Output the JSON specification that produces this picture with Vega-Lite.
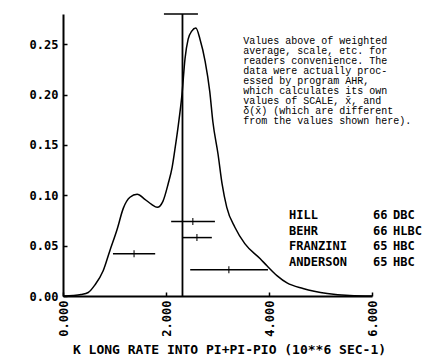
{
  "$schema": "https://vega.github.io/schema/vega-lite/v6.json",
  "autosize": "none",
  "width": 309,
  "height": 282,
  "padding": {"left": 63, "top": 14, "right": 58, "bottom": 64},
  "background": "white",
  "config": {
    "view": {"stroke": null},
    "axis": {
      "grid": false,
      "domainColor": "black",
      "domainWidth": 2,
      "tickColor": "black",
      "tickWidth": 1.5,
      "tickSize": -4,
      "labelColor": "black",
      "labelFont": "DejaVu Sans Mono",
      "labelFontWeight": "bold",
      "labelFontSize": 12,
      "titleColor": "black",
      "titleFont": "DejaVu Sans Mono",
      "titleFontWeight": "bold",
      "titleFontSize": 13
    }
  },
  "datasets": {
    "curve": [
      {"x": 0, "y": 0}, {"x": 0.2, "y": 0.0005}, {"x": 0.35, "y": 0.0015}, {"x": 0.49, "y": 0.0035},
      {"x": 0.62, "y": 0.011}, {"x": 0.78, "y": 0.025}, {"x": 0.91, "y": 0.045}, {"x": 1.05, "y": 0.066},
      {"x": 1.17, "y": 0.087}, {"x": 1.30, "y": 0.098}, {"x": 1.44, "y": 0.101}, {"x": 1.59, "y": 0.096},
      {"x": 1.72, "y": 0.091}, {"x": 1.83, "y": 0.088}, {"x": 1.94, "y": 0.094}, {"x": 2.04, "y": 0.111},
      {"x": 2.12, "y": 0.128}, {"x": 2.18, "y": 0.148}, {"x": 2.24, "y": 0.170}, {"x": 2.31, "y": 0.200},
      {"x": 2.37, "y": 0.236}, {"x": 2.43, "y": 0.255}, {"x": 2.50, "y": 0.263}, {"x": 2.58, "y": 0.266},
      {"x": 2.66, "y": 0.255}, {"x": 2.76, "y": 0.233}, {"x": 2.85, "y": 0.203}, {"x": 2.91, "y": 0.173},
      {"x": 3.01, "y": 0.141}, {"x": 3.09, "y": 0.111}, {"x": 3.18, "y": 0.088}, {"x": 3.34, "y": 0.068},
      {"x": 3.53, "y": 0.052}, {"x": 3.83, "y": 0.037}, {"x": 3.96, "y": 0.030}, {"x": 4.16, "y": 0.020},
      {"x": 4.35, "y": 0.013}, {"x": 4.66, "y": 0.0075}, {"x": 5.13, "y": 0.0025}, {"x": 5.57, "y": 0.0005},
      {"x": 6.0, "y": 0}
    ],
    "points": [
      {"experiment": "HILL", "x": 1.38, "lo": 0.97, "hi": 1.79, "y": 0.042},
      {"experiment": "BEHR", "x": 2.52, "lo": 2.10, "hi": 2.95, "y": 0.074},
      {"experiment": "FRANZINI", "x": 2.60, "lo": 2.33, "hi": 2.89, "y": 0.058},
      {"experiment": "ANDERSON", "x": 3.22, "lo": 2.47, "hi": 3.98, "y": 0.026}
    ],
    "average": [
      {"x": 2.32, "lo": 1.96, "hi": 2.62, "y0": 0, "y": 0.28}
    ],
    "legend": [
      {"name": "HILL", "year": "66", "type": "DBC", "y": 0.0804},
      {"name": "BEHR", "year": "66", "type": "HLBC", "y": 0.0645},
      {"name": "FRANZINI", "year": "65", "type": "HBC", "y": 0.0497},
      {"name": "ANDERSON", "year": "65", "type": "HBC", "y": 0.0338}
    ],
    "note": [
      {"x": 3.5, "y": 0.258}
    ]
  },
  "layer": [
    {
      "data": {"name": "curve"},
      "mark": {"type": "line", "color": "black", "strokeWidth": 1.5, "interpolate": "monotone"},
      "encoding": {
        "x": {
          "field": "x", "type": "quantitative",
          "scale": {"domain": [0, 6], "nice": false, "zero": false},
          "axis": {
            "values": [0, 2, 4, 6], "format": ".3f", "labelAngle": -90,
            "labelPadding": 8,
            "title": "K LONG RATE INTO PI+PI-PIO (10**6 SEC-1)",
            "titlePadding": 7, "titleX": 166
          }
        },
        "y": {
          "field": "y", "type": "quantitative",
          "scale": {"domain": [0, 0.28], "nice": false},
          "axis": {
            "values": [0, 0.05, 0.1, 0.15, 0.2, 0.25], "format": ".2f",
            "labelPadding": 9, "title": null
          }
        }
      }
    },
    {
      "data": {"name": "average"},
      "mark": {"type": "rule", "color": "black", "strokeWidth": 1.8},
      "encoding": {
        "x": {"field": "x", "type": "quantitative"},
        "y": {"field": "y0", "type": "quantitative"},
        "y2": {"field": "y"}
      }
    },
    {
      "data": {"name": "average"},
      "mark": {"type": "rule", "color": "black", "strokeWidth": 1.5},
      "encoding": {
        "x": {"field": "lo", "type": "quantitative"},
        "x2": {"field": "hi"},
        "y": {"field": "y", "type": "quantitative"}
      }
    },
    {
      "data": {"name": "points"},
      "mark": {"type": "rule", "color": "black", "strokeWidth": 1.5},
      "encoding": {
        "x": {"field": "lo", "type": "quantitative"},
        "x2": {"field": "hi"},
        "y": {"field": "y", "type": "quantitative"}
      }
    },
    {
      "data": {"name": "points"},
      "mark": {"type": "tick", "orient": "vertical", "color": "black", "size": 7, "thickness": 1.5},
      "encoding": {
        "x": {"field": "x", "type": "quantitative"},
        "y": {"field": "y", "type": "quantitative"}
      }
    },
    {
      "data": {"name": "legend"},
      "mark": {"type": "text", "align": "left", "baseline": "middle", "font": "DejaVu Sans Mono", "fontWeight": "bold", "fontSize": 12, "color": "black"},
      "encoding": {
        "x": {"datum": 4.39, "type": "quantitative"},
        "y": {"field": "y", "type": "quantitative"},
        "text": {"field": "name"}
      }
    },
    {
      "data": {"name": "legend"},
      "mark": {"type": "text", "align": "left", "baseline": "middle", "font": "DejaVu Sans Mono", "fontWeight": "bold", "fontSize": 12, "color": "black"},
      "encoding": {
        "x": {"datum": 6.02, "type": "quantitative"},
        "y": {"field": "y", "type": "quantitative"},
        "text": {"field": "year"}
      }
    },
    {
      "data": {"name": "legend"},
      "mark": {"type": "text", "align": "left", "baseline": "middle", "font": "DejaVu Sans Mono", "fontWeight": "bold", "fontSize": 12, "color": "black"},
      "encoding": {
        "x": {"datum": 6.41, "type": "quantitative"},
        "y": {"field": "y", "type": "quantitative"},
        "text": {"field": "type"}
      }
    },
    {
      "data": {"name": "note"},
      "mark": {
        "type": "text", "align": "left", "baseline": "top", "font": "Liberation Mono", "fontSize": 10, "lineHeight": 10, "color": "black",
        "text": [
          "Values above of weighted",
          "average, scale, etc. for",
          "readers convenience.  The",
          "data were actually proc-",
          "essed by program AHR,",
          "which calculates its own",
          "values of SCALE, x̄, and",
          "δ(x̄) (which are different",
          "from the values shown here)."
        ]
      },
      "encoding": {
        "x": {"field": "x", "type": "quantitative"},
        "y": {"field": "y", "type": "quantitative"}
      }
    }
  ]
}
